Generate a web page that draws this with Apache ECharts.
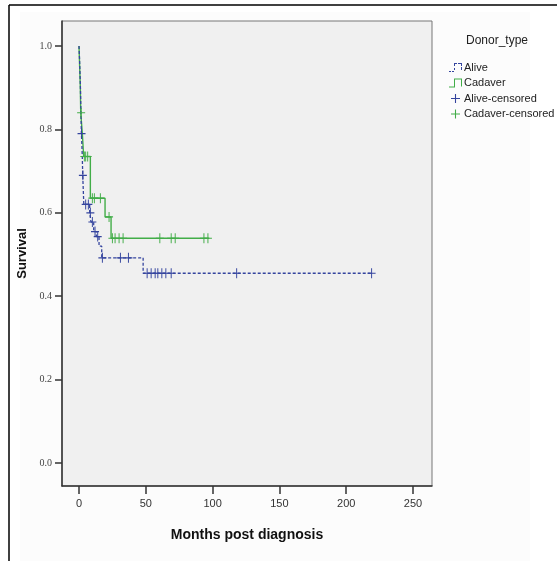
<!DOCTYPE html>
<html><head><meta charset="utf-8">
<script src="https://cdn.jsdelivr.net/npm/echarts@6/dist/echarts.min.js"></script>
<style>html,body{margin:0;padding:0;background:#fff}#c{width:557px;height:561px}</style>
</head><body><div id="c"></div>
<script>
// Kaplan-Meier step points [months, survival]
const aliveTimes = [0, 0.4, 0.7, 1.0, 1.2, 1.4, 1.6, 1.8, 2.2, 2.5, 2.8, 3.2, 3.6, 8, 9, 11, 13, 15, 17, 48, 219];
const aliveSurv  = [1.0, 0.97, 0.94, 0.91, 0.88, 0.85, 0.82, 0.79, 0.76, 0.73, 0.69, 0.655, 0.62, 0.60, 0.578, 0.555, 0.543, 0.52, 0.492, 0.455, 0.455];
const cadTimes = [0, 0.5, 1.0, 1.3, 2.5, 3.5, 8.5, 19.5, 24, 97.5];
const cadSurv  = [1.0, 0.95, 0.90, 0.84, 0.79, 0.735, 0.635, 0.59, 0.539, 0.539];
// censored observations
const aliveCensTimes = [1.9, 2.9, 5, 7, 8.5, 10, 12, 14, 17.5, 31, 37, 51, 54, 57, 59, 62, 65, 69, 118, 219];
const aliveCensSurv  = [0.79, 0.69, 0.62, 0.62, 0.60, 0.578, 0.555, 0.543, 0.492, 0.492, 0.492, 0.455, 0.455, 0.455, 0.455, 0.455, 0.455, 0.455, 0.455, 0.455];
const cadCensTimes = [1.6, 4, 5, 6.5, 10, 11.5, 16, 22.5, 25, 27, 30, 33, 60.5, 69, 72, 93.5, 96.5];
const cadCensSurv  = [0.84, 0.735, 0.735, 0.735, 0.635, 0.635, 0.635, 0.59, 0.539, 0.539, 0.539, 0.539, 0.539, 0.539, 0.539, 0.539, 0.539];
const xTicks = [0, 50, 100, 150, 200, 250];
const yTicks = [0, 0.2, 0.4, 0.6, 0.8, 1.0];
const legendNames = ['Alive', 'Cadaver', 'Alive-censored', 'Cadaver-censored'];

const zip = (a, b) => a.map((v, i) => [v, b[i]]);
const BLUE = '#34449e', GREEN = '#42ad48';
const plus = 'path://M4.4,0H5.6V4.4H10V5.6H5.6V10H4.4V5.6H0V4.4H4.4Z';
const stepSolid = 'path://M0,9H5V1H13V9H12V2H6V10H0Z';
const stepDash = 'path://M0,9H2V10H0Z M3,9H5V10H3Z M5,6H6V8H5Z M5,2H6V4H5Z M5,1H8V2H5Z M9,1H12V2H9Z M12,1H13V4H12Z M12,5H13V8H12Z';
const sans = "'Liberation Sans',Arial,sans-serif";

const chart = echarts.init(document.getElementById('c'), null, {renderer: 'canvas'});
chart.setOption({
  animation: false,
  backgroundColor: '#fff',
  graphic: [
    {type: 'rect', shape: {x: 20, y: 12, width: 510, height: 549}, style: {fill: '#fcfcfc'}, z: -10},
    {type: 'line', shape: {x1: 9, y1: 5, x2: 557, y2: 5}, style: {stroke: '#000', lineWidth: 1.5}},
    {type: 'line', shape: {x1: 9, y1: 5, x2: 9, y2: 561}, style: {stroke: '#000', lineWidth: 1.5}}
  ],
  title: {
    text: 'Donor_type', left: 461, top: 30,
    textStyle: {fontFamily: sans, fontSize: 12, fontWeight: 'normal', color: '#222'}
  },
  legend: {
    orient: 'vertical', left: 444, top: 57,
    itemWidth: 13, itemHeight: 9, itemGap: 4.5,
    textStyle: {fontFamily: sans, fontSize: 11, color: '#222', padding: [0, 0, 0, -3]},
    data: [
      {name: legendNames[0], icon: stepDash},
      {name: legendNames[1], icon: stepSolid},
      {name: legendNames[2], icon: plus},
      {name: legendNames[3], icon: plus}
    ]
  },
  grid: {left: 62, top: 21, right: 125, bottom: 75, show: true, backgroundColor: '#f0f0f0', borderColor: '#777', borderWidth: 1},
  xAxis: {
    type: 'value', min: -12.72, max: 264.2,
    name: 'Months post diagnosis', nameLocation: 'middle', nameGap: 42,
    nameTextStyle: {fontFamily: sans, fontSize: 14, fontWeight: 'bold', color: '#111'},
    axisLine: {onZero: false, lineStyle: {color: '#333', width: 1.5}},
    axisTick: {show: true, length: 8, customValues: xTicks, lineStyle: {color: '#333', width: 1.5}},
    axisLabel: {customValues: xTicks, margin: 12, fontFamily: sans, fontSize: 11, color: '#333'},
    splitLine: {show: false}
  },
  yAxis: {
    type: 'value', min: -0.0552, max: 1.06,
    name: 'Survival', nameLocation: 'middle', nameGap: 27, nameRotate: 90,
    nameTextStyle: {fontFamily: sans, fontSize: 13, fontWeight: 'bold', color: '#111'},
    axisLine: {onZero: false, lineStyle: {color: '#333', width: 1.5}},
    axisTick: {show: true, length: 7, customValues: yTicks, lineStyle: {color: '#333', width: 1.5}},
    axisLabel: {customValues: yTicks, margin: 10, fontFamily: "'Liberation Serif',serif", fontSize: 10, color: '#444',
      formatter: v => v.toFixed(1)},
    splitLine: {show: false}
  },
  series: [
    {name: legendNames[0], type: 'line', step: 'end', showSymbol: false, symbol: 'none',
     data: zip(aliveTimes, aliveSurv), itemStyle: {color: BLUE},
     lineStyle: {color: BLUE, width: 1.3, type: [3, 2]}, z: 3},
    {name: legendNames[1], type: 'line', step: 'end', showSymbol: false, symbol: 'none',
     data: zip(cadTimes, cadSurv), itemStyle: {color: GREEN},
     lineStyle: {color: GREEN, width: 1.4}, z: 2},
    {name: legendNames[2], type: 'scatter', symbol: plus, symbolSize: [8, 10],
     data: zip(aliveCensTimes, aliveCensSurv), itemStyle: {color: BLUE, opacity: 1}, z: 4},
    {name: legendNames[3], type: 'scatter', symbol: plus, symbolSize: [8, 10],
     data: zip(cadCensTimes, cadCensSurv), itemStyle: {color: GREEN, opacity: 1}, z: 4}
  ]
});
</script></body></html>
